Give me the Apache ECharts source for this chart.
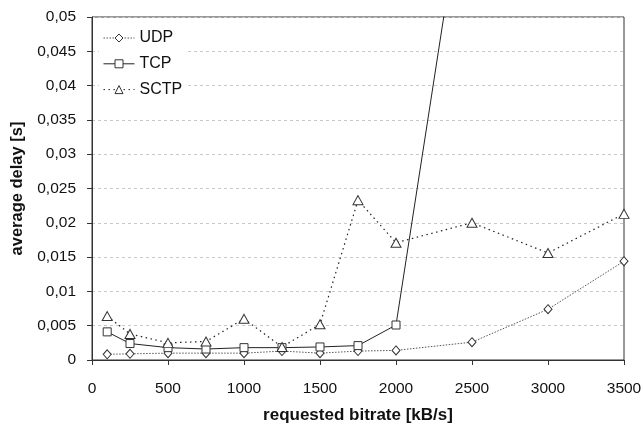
<!DOCTYPE html>
<html><head><meta charset="utf-8">
<script src="https://cdn.jsdelivr.net/npm/echarts@6/dist/echarts.min.js"></script>
<style>html,body{margin:0;padding:0;background:#fff}#c{width:642px;height:426px}</style>
</head><body><div id="c"></div>
<script>
var bitrates = [100, 250, 500, 750, 1000, 1250, 1500, 1750, 2000, 2500, 3000, 3500];
var udp  = [0.00083, 0.0009, 0.001, 0.001, 0.001, 0.0013, 0.001, 0.0013, 0.0014, 0.0026, 0.0074, 0.0144];
var tcp  = [0.0041, 0.0024, 0.0018, 0.0016, 0.0018, 0.0018, 0.0019, 0.0021, 0.0051, 0.0766];
var sctp = [0.0064, 0.0038, 0.0025, 0.0027, 0.006, 0.0019, 0.0052, 0.0233, 0.0171, 0.020, 0.0156, 0.0213];
var seriesNames = ['UDP', 'TCP', 'SCTP'];

function pairs(vals){ return vals.map(function(v,i){ return [bitrates[i], v]; }); }
var F = 'Liberation Sans, Arial, sans-serif';
var chart = echarts.init(document.getElementById('c'));
var mk = {color:'#fff', borderColor:'#333', borderWidth:1};
chart.setOption({
  animation:false,
  backgroundColor:'#fff',
  grid:{left:92, right:18, top:17, bottom:66, show:true, borderColor:'#333', borderWidth:1,
        backgroundColor:'transparent', containLabel:false, outerBoundsMode:'none'},
  legend:{
    orient:'vertical', left:99, top:28, itemWidth:31, itemHeight:10, itemGap:9.8,
    backgroundColor:'#fff', padding:[2,6,2,4],
    lineStyle:{width:1},
    itemStyle:{borderWidth:1},
    textStyle:{fontFamily:F, fontSize:16, lineHeight:16, color:'#111'},
    data:seriesNames
  },
  xAxis:{
    type:'value', min:0, max:3500, interval:500,
    name:'requested bitrate [kB/s]', nameLocation:'middle', nameGap:47,
    nameTextStyle:{fontFamily:F, fontSize:17, fontWeight:'bold', color:'#111'},
    axisLine:{lineStyle:{color:'#333'}},
    axisTick:{show:true, length:5, lineStyle:{color:'#333'}},
    axisLabel:{fontFamily:F, fontSize:15.5, color:'#111', margin:21, formatter:function(v){ return String(v); }},
    splitLine:{show:false}
  },
  yAxis:{
    type:'value', min:0, max:0.05, interval:0.005,
    name:'average delay [s]', nameLocation:'middle', nameGap:66,
    nameTextStyle:{fontFamily:F, fontSize:16.5, fontWeight:'bold', color:'#111'},
    axisLine:{show:true, lineStyle:{color:'#333'}},
    axisTick:{show:true, length:5, lineStyle:{color:'#333'}},
    axisLabel:{fontFamily:F, fontSize:15.5, color:'#111', margin:16,
      formatter:function(v){ return String(+v.toFixed(4)).replace('.', ','); }},
    splitLine:{show:true, lineStyle:{color:'#c8c8c8', type:[3,3]}}
  },
  series:[
    {name:'UDP', type:'line', data:pairs(udp), symbol:'diamond', symbolSize:[8,9], clip:true,
     itemStyle:mk, lineStyle:{color:'#555', width:1, type:[1.5,1.5]}},
    {name:'TCP', type:'line', data:pairs(tcp), symbol:'rect', symbolSize:8, clip:true,
     itemStyle:mk, lineStyle:{color:'#222', width:1}},
    {name:'SCTP', type:'line', data:pairs(sctp), symbol:'triangle', symbolSize:[10,9], clip:true,
     itemStyle:mk, lineStyle:{color:'#222', width:1.2, type:[1.5,3.5]}}
  ]
});
</script></body></html>
